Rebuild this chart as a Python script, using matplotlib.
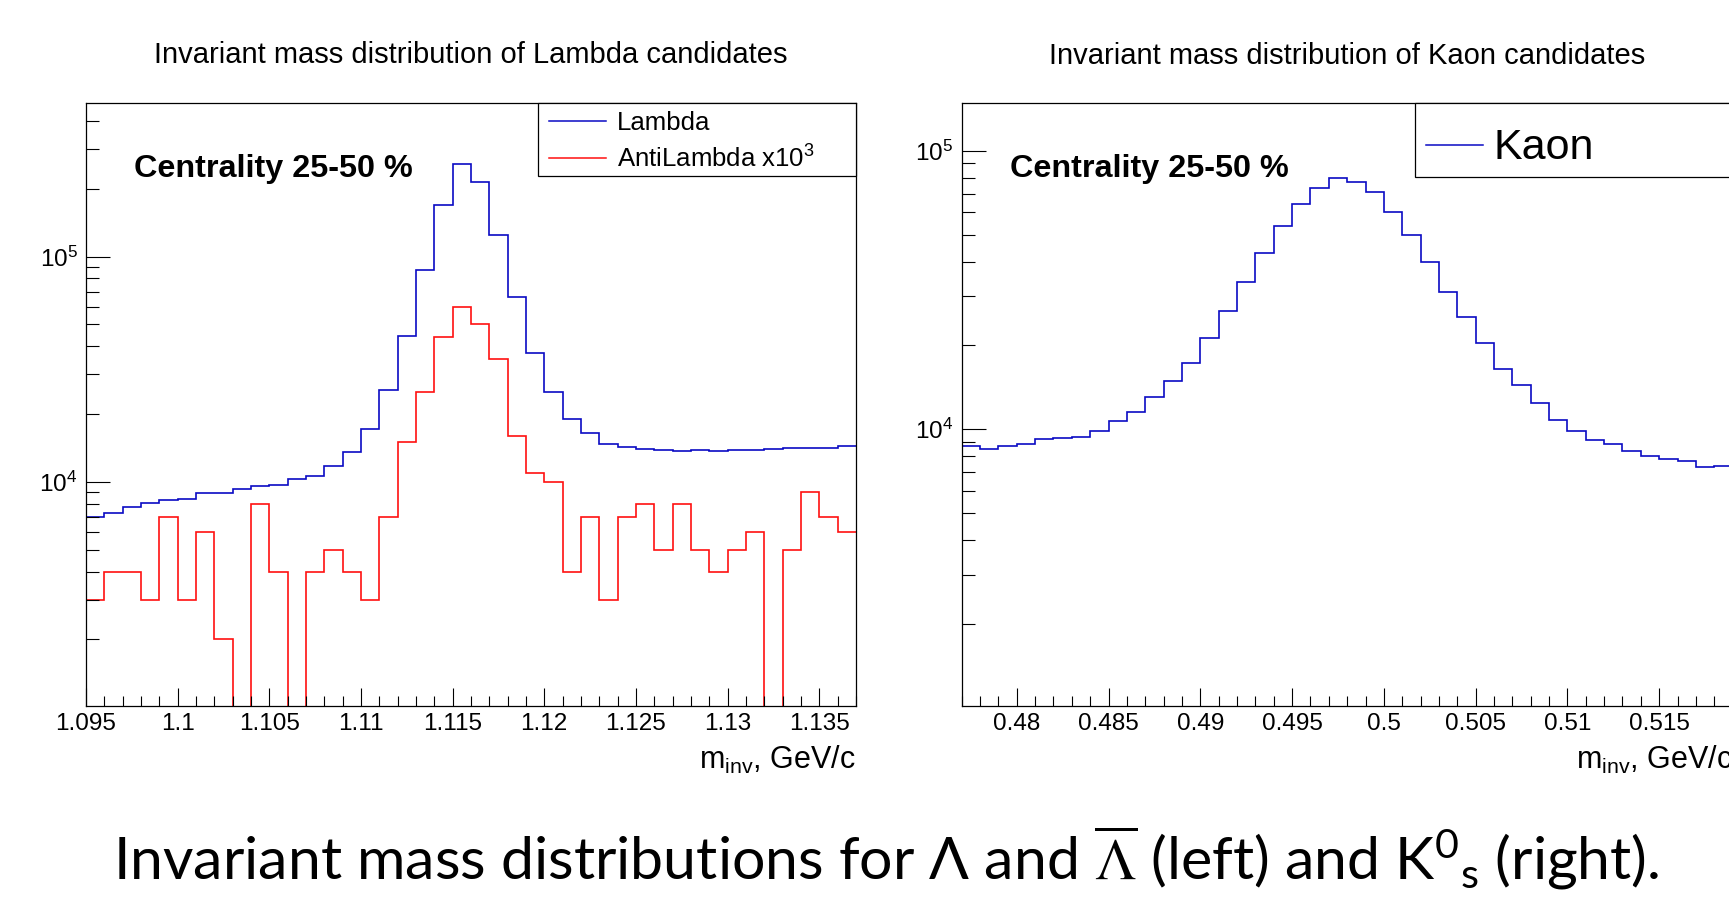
import numpy as np
import matplotlib.pyplot as plt
from matplotlib.ticker import MultipleLocator, FuncFormatter, LogLocator, LogFormatterMathtext, NullFormatter
from matplotlib.patches import Rectangle
from matplotlib.lines import Line2D

plt.rcParams['font.family'] = 'Liberation Sans'

# Lambda window: 1 MeV bins from 1.095 to 1.137 GeV/c
lambda_edges = np.linspace(1.095, 1.137, 43)
lambda_counts = [6980, 7280, 7710, 8070, 8320, 8400, 8950, 8950, 9340, 9570,
                 9700, 10280, 10670, 11780, 13600, 17140, 25640, 44570, 87500, 169000,
                 257000, 215300, 124500, 65900, 37400, 24950, 19050, 16520, 14790, 14220,
                 14030, 13870, 13680, 13840, 13680, 13840, 13870, 14030, 14160, 14160,
                 14160, 14420]
# raw AntiLambda counts, drawn scaled by 10^3
antilambda_counts = [3, 4, 4, 3, 7, 3, 6, 2, 0, 8,
                     4, 0, 4, 5, 4, 3, 7, 15, 25, 44,
                     60, 50, 35, 16, 11, 10, 4, 7, 3, 7,
                     8, 5, 8, 5, 4, 5, 6, 0, 5, 9,
                     7, 6]
antilambda_scale = 1e3

# K0s window: 1 MeV bins from 0.477 to 0.519 GeV/c
kaon_edges = np.linspace(0.477, 0.519, 43)
kaon_counts = [8710, 8490, 8710, 8810, 9180, 9290, 9380, 9830, 10700, 11540,
               13020, 14830, 17250, 21290, 26540, 33650, 42770, 53800, 64550, 73650,
               79600, 76950, 71300, 60400, 49800, 39900, 31140, 25240, 20370, 16380,
               14380, 12400, 10810, 9820, 9110, 8860, 8340, 7980, 7800, 7710,
               7300, 7380]

blue = '#0a0ac4'
red = '#ff1010'

fig = plt.figure(figsize=(17.29, 8.97), dpi=100)
ax1 = fig.add_axes([0.0497, 0.2129, 0.4453, 0.6728])
ax2 = fig.add_axes([0.5562, 0.2129, 0.4459, 0.6728])


def style_axes(ax, xlo, xhi, ylo, yhi):
    ax.set_yscale('log')
    ax.set_xlim(xlo, xhi)
    ax.set_ylim(ylo, yhi)
    ax.xaxis.set_major_locator(MultipleLocator(0.005))
    ax.xaxis.set_minor_locator(MultipleLocator(0.001))
    ax.xaxis.set_major_formatter(FuncFormatter(lambda v, p: '%g' % round(v, 4)))
    ax.yaxis.set_major_locator(LogLocator(base=10))
    ax.yaxis.set_minor_locator(LogLocator(base=10, subs=np.arange(2, 10)))
    ax.yaxis.set_major_formatter(LogFormatterMathtext())
    ax.yaxis.set_minor_formatter(NullFormatter())
    ax.tick_params(which='both', direction='in', top=False, right=False, width=0.8, labelsize=17.5)
    ax.tick_params(axis='x', which='major', length=13, pad=5)
    ax.tick_params(axis='x', which='minor', length=7)
    ax.tick_params(axis='y', which='major', length=17, pad=6)
    ax.tick_params(axis='y', which='minor', length=9)
    for s in ax.spines.values():
        s.set_linewidth(0.9)
    ax.set_xlabel(r'$\mathdefault{m_{inv}}$, GeV/c', fontsize=22)
    ax.xaxis.label.set_ha('right')
    ax.xaxis.label.set_va('baseline')
    ax.xaxis.set_label_coords(1.0, -0.1037)
    ax.text(0.063, 0.876, 'Centrality 25-50 %', transform=ax.transAxes,
            fontsize=23.3, fontweight='bold', va='baseline')


def key_box(ax, x0, y0):
    ax.add_patch(Rectangle((x0, y0), 1.0 - x0, 1.0 - y0, transform=ax.transAxes,
                           facecolor='white', edgecolor='black', lw=0.9,
                           clip_on=False, zorder=5))


def key_entry(ax, label, color, y_line, y_text, size):
    ax.add_line(Line2D([0.602, 0.676], [y_line, y_line], transform=ax.transAxes,
                       color=color, lw=1.1, zorder=6))
    ax.text(0.690, y_text, label, transform=ax.transAxes, fontsize=size,
            va='baseline', zorder=6)


# left: Lambda and scaled AntiLambda
style_axes(ax1, 1.095, 1.137, 1.012e3, 4.83e5)
ax1.stairs(lambda_counts, lambda_edges, baseline=None, color=blue, lw=1.2)
ax1.stairs(np.array(antilambda_counts) * antilambda_scale, lambda_edges,
           baseline=None, color=red, lw=1.2)
key_box(ax1, 0.587, 0.878)
key_entry(ax1, 'Lambda', blue, 0.970, 0.954, 18.5)
key_entry(ax1, r'AntiLambda $\mathdefault{x10^{3}}$', red, 0.9075, 0.892, 18.5)

# right: K0s
style_axes(ax2, 0.477, 0.519, 1.012e3, 1.49e5)
ax2.stairs(kaon_counts, kaon_edges, baseline=None, color=blue, lw=1.2)
key_box(ax2, 0.588, 0.876)
key_entry(ax2, 'Kaon', blue, 0.9296, 0.906, 31)

fig.text(471 / 1729, 0.9299, 'Invariant mass distribution of Lambda candidates',
         ha='center', va='baseline', fontsize=21)
fig.text(1347 / 1729, 0.9287, 'Invariant mass distribution of Kaon candidates',
         ha='center', va='baseline', fontsize=21)

fig.text(0.0655, 0.019,
         r'Invariant mass distributions for Λ and $\overline{\Lambda}$ (left) and '
         r'$\mathdefault{K^{0}{}_{s}}$ (right).',
         family=['Lato', 'DejaVu Sans'], math_fontfamily='stix',
         fontsize=42.5, va='baseline', ha='left')

fig.savefig('out.png', dpi=100)
